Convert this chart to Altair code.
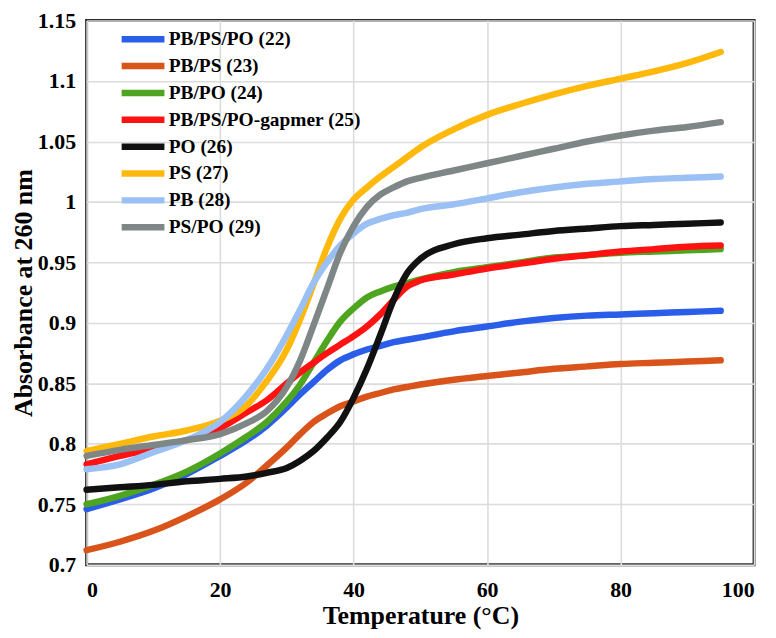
import altair as alt
import pandas as pd

# ---- data ----
series_names = [
    "PB/PS/PO (22)", "PB/PS (23)", "PB/PO (24)", "PB/PS/PO-gapmer (25)",
    "PO (26)", "PS (27)", "PB (28)", "PS/PO (29)",
]
series_colors = [
    "#2a5de8", "#d9541a", "#4ea51f", "#ff1212",
    "#111111", "#ffb80c", "#9bc0f4", "#7f8786",
]

temps = [0, 5, 10, 15, 20, 24, 27, 30, 32, 34, 36, 38, 40, 42, 44, 46, 48, 50,
         55, 60, 65, 70, 75, 80, 85, 90, 95]

pb_ps_po = [0.746, 0.754, 0.763, 0.775, 0.790, 0.803, 0.815, 0.830, 0.841, 0.851, 0.861, 0.869,
            0.874, 0.878, 0.881, 0.884, 0.886, 0.888, 0.893, 0.897, 0.901, 0.904, 0.906, 0.907,
            0.908, 0.909, 0.910]
pb_ps = [0.712, 0.719, 0.728, 0.740, 0.754, 0.768, 0.782, 0.797, 0.808, 0.818, 0.825, 0.831,
         0.835, 0.839, 0.842, 0.845, 0.847, 0.849, 0.853, 0.856, 0.859, 0.862, 0.864, 0.866,
         0.867, 0.868, 0.869]
pb_po = [0.750, 0.757, 0.766, 0.777, 0.792, 0.806, 0.818, 0.835, 0.849, 0.867, 0.885, 0.901,
         0.912, 0.921, 0.926, 0.930, 0.933, 0.936, 0.942, 0.946, 0.950, 0.954, 0.956, 0.958,
         0.959, 0.960, 0.961]
gapmer = [0.783, 0.790, 0.796, 0.803, 0.813, 0.826, 0.836, 0.850, 0.859, 0.867, 0.875, 0.882,
          0.889, 0.897, 0.907, 0.919, 0.930, 0.935, 0.940, 0.945, 0.949, 0.953, 0.956, 0.959,
          0.961, 0.963, 0.964]
po = [0.762, 0.764, 0.766, 0.769, 0.771, 0.773, 0.776, 0.780, 0.786, 0.794, 0.805, 0.818,
      0.838, 0.862, 0.890, 0.919, 0.941, 0.953, 0.965, 0.970, 0.973, 0.976, 0.978, 0.980,
      0.981, 0.982, 0.983]
ps = [0.794, 0.800, 0.806, 0.811, 0.819, 0.832, 0.852, 0.878, 0.903, 0.932, 0.962, 0.986,
      1.002, 1.012, 1.021, 1.029, 1.037, 1.045, 1.060, 1.072, 1.081, 1.089, 1.096, 1.102,
      1.108, 1.115, 1.124]
pb = [0.779, 0.783, 0.793, 0.803, 0.818, 0.840, 0.862, 0.890, 0.911, 0.933, 0.950, 0.964,
      0.974, 0.982, 0.986, 0.989, 0.991, 0.994, 0.998, 1.003, 1.008, 1.012, 1.015, 1.017,
      1.019, 1.020, 1.021]
ps_po = [0.790, 0.795, 0.799, 0.803, 0.808, 0.817, 0.827, 0.847, 0.869, 0.898, 0.928, 0.958,
         0.980, 0.996, 1.006, 1.012, 1.017, 1.020, 1.026, 1.032, 1.038, 1.044, 1.050, 1.055,
         1.059, 1.062, 1.066]

all_series = [pb_ps_po, pb_ps, pb_po, gapmer, po, ps, pb, ps_po]

y_ticks = [0.7, 0.75, 0.8, 0.85, 0.9, 0.95, 1.0, 1.05, 1.1, 1.15]
x_ticks = [0, 20, 40, 60, 80, 100]

rows = []
for name, vals in zip(series_names, all_series):
    for t, v in zip(temps, vals):
        rows.append({"series": name, "T": t, "A": v})
df = pd.DataFrame(rows)

FONT = "Liberation Serif"

chart = alt.Chart(df).mark_line(
    strokeWidth=6.5, strokeCap="round", strokeJoin="round", interpolate="monotone"
).encode(
    x=alt.X("T:Q", scale=alt.Scale(domain=[0, 100], nice=False),
            axis=alt.Axis(values=x_ticks, title="Temperature (°C)", format="d")),
    y=alt.Y("A:Q", scale=alt.Scale(domain=[0.7, 1.15], nice=False, zero=False),
            axis=alt.Axis(values=y_ticks, title="Absorbance at 260 nm", format="~g")),
    color=alt.Color("series:N", sort=series_names,
                    scale=alt.Scale(domain=series_names, range=series_colors),
                    legend=alt.Legend(
                        title=None, orient="none", legendX=47, legendY=9,
                        symbolType="M-5,0H5", symbolSize=74, symbolStrokeWidth=6.5,
                        labelFont=FONT, labelFontSize=19.5, labelFontWeight="bold",
                        labelColor="black", labelOffset=16, rowPadding=0,
                        labelLimit=400)),
).properties(
    width=671, height=547,
    autosize=alt.AutoSizeParams(type="none"),
    padding={"left": 79, "top": 11, "right": 14, "bottom": 64},
).configure_view(
    stroke="#2b2b2b", strokeWidth=3,
).configure_axis(
    labelFont=FONT, labelFontSize=22, labelFontWeight="bold", labelColor="black",
    titleFont=FONT, titleFontSize=26, titleFontWeight="bold", titleColor="black",
    grid=True, gridColor="#dcdcdc", gridWidth=1.6,
    ticks=False, domain=False,
).configure_axisX(
    labelPadding=15, titlePadding=2,
).configure_axisY(
    labelPadding=11, titlePadding=1,
)

chart.save("out.html", embed_options={"renderer": "svg", "actions": False})
